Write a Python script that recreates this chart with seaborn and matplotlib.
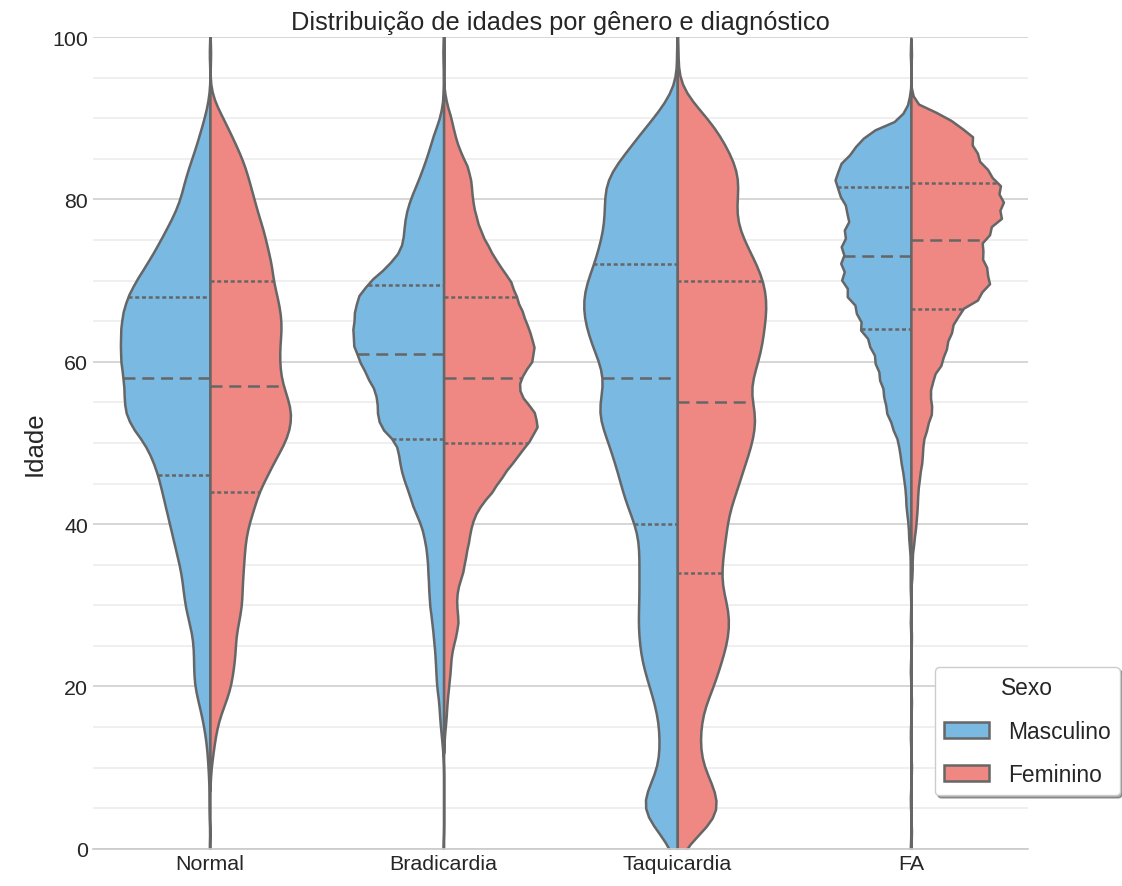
import numpy as np
import pandas as pd
import matplotlib.pyplot as plt
import seaborn as sns
from matplotlib.ticker import MultipleLocator

# ---------- Dados: número de pacientes por idade (faixas de 2 anos, 0..100) ----------
idades = list(range(0, 101, 2))
diagnosticos = ['Normal', 'Bradicardia', 'Taquicardia', 'FA']
sexos = ['Masculino', 'Feminino']

normal_masc = [1, 0, 1, 1, 1, 2, 3, 5, 8, 12,
               16, 17, 17, 18, 22, 26, 28, 30, 34, 38,
               42, 46, 50, 54, 60, 68, 82, 89, 89, 90,
               93, 93, 93, 91, 86, 77, 66, 56, 47, 38,
               31, 27, 22, 16, 11, 6, 2, 0, 0, 1, 0]
normal_fem = [0, 0, 0, 0, 0, 1, 3, 5, 8, 14,
              19, 21, 23, 23, 26, 29, 29, 30, 31, 32,
              35, 40, 44, 52, 59, 68, 73, 74, 69, 64,
              63, 63, 65, 64, 61, 57, 56, 52, 49, 44,
              40, 36, 32, 26, 19, 12, 4, 0, 0, 1, 0]
bradi_masc = [1, 0, 0, 0, 0, 0, 1, 3, 5, 6,
              9, 10, 11, 13, 15, 18, 19, 20, 21, 24,
              29, 39, 45, 53, 57, 59, 83, 85, 85, 97,
              107, 116, 116, 114, 111, 94, 69, 53, 51, 49,
              43, 34, 26, 19, 13, 5, 1, 0, 0, 1, 0]
bradi_fem = [0, 0, 0, 0, 0, 0, 0, 1, 3, 4,
             6, 8, 9, 14, 18, 15, 16, 23, 26, 30,
             33, 41, 58, 70, 85, 100, 113, 108, 89, 90,
             106, 108, 101, 94, 86, 80, 65, 54, 44, 38,
             34, 33, 29, 19, 13, 9, 3, 0, 0, 1, 0]
taqui_masc = [5, 14, 26, 28, 21, 15, 14, 14, 15, 18,
              22, 26, 29, 30, 31, 30, 30, 30, 30, 30,
              33, 39, 43, 46, 50, 54, 59, 63, 59, 57,
              61, 67, 71, 74, 74, 71, 65, 62, 58, 57,
              57, 57, 50, 39, 30, 19, 9, 2, 0, 1, 0]
taqui_fem = [3, 17, 30, 29, 25, 18, 16, 16, 17, 20,
             26, 29, 33, 36, 37, 36, 31, 31, 32, 34,
             35, 37, 42, 45, 49, 53, 55, 56, 50, 53,
             57, 60, 61, 63, 63, 61, 56, 50, 44, 41,
             42, 44, 42, 36, 30, 22, 10, 2, 0, 1, 0]
fa_masc = [1, 0, 0, 1, 0, 0, 0, 1, 0, 0,
           0, 1, 0, 0, 1, 0, 1, 1, 1, 3,
           4, 7, 8, 11, 15, 18, 27, 36, 39, 45,
           51, 58, 72, 76, 90, 98, 99, 99, 95, 89,
           99, 110, 105, 84, 66, 14, 3, 0, 0, 1, 0]
fa_fem = [0, 1, 0, 0, 0, 1, 0, 0, 0, 1,
          0, 0, 0, 1, 0, 0, 0, 2, 2, 5,
          8, 10, 11, 14, 18, 19, 26, 34, 30, 35,
          50, 57, 65, 75, 110, 126, 117, 111, 124, 144,
          144, 139, 116, 101, 96, 59, 5, 0, 0, 1, 0]

contagens = {
    ('Normal', 'Masculino'): normal_masc, ('Normal', 'Feminino'): normal_fem,
    ('Bradicardia', 'Masculino'): bradi_masc, ('Bradicardia', 'Feminino'): bradi_fem,
    ('Taquicardia', 'Masculino'): taqui_masc, ('Taquicardia', 'Feminino'): taqui_fem,
    ('FA', 'Masculino'): fa_masc, ('FA', 'Feminino'): fa_fem,
}

partes = []
for (diag, sexo), cont in contagens.items():
    partes.append(pd.DataFrame({'Idade': np.repeat(idades, cont),
                                'Diagnostico': diag, 'Sexo': sexo}))
df = pd.concat(partes, ignore_index=True)

cores = {'Masculino': '#7AB9E2', 'Feminino': '#EF8783'}
cor_linha = '#666666'

# ---------- Gráfico ----------
sns.set_theme(style='whitegrid', font_scale=1.4)
plt.rcParams['font.family'] = ['Liberation Sans', 'DejaVu Sans']

fig, ax = plt.subplots(figsize=(11.22, 8.87), dpi=100)
fig.subplots_adjust(left=0.083, right=0.916, bottom=0.042, top=0.957)

sns.violinplot(data=df, x='Diagnostico', y='Idade', hue='Sexo',
               order=diagnosticos, hue_order=sexos, split=True, inner='quart',
               density_norm='count', bw_adjust=0.35, palette=cores, saturation=1,
               linecolor=cor_linha, linewidth=1.8, ax=ax)

# linhas dos quartis: pontilhadas (Q1, Q3) e tracejada (mediana)
for i, linha in enumerate(ax.lines):
    linha.set_linewidth(1.8)
    linha.set_color(cor_linha)
    if i % 3 == 1:
        linha.set_dashes((4.8, 2.7))
    else:
        linha.set_dashes((1.6, 1.1))

ax.set_ylim(0, 100)
ax.set_xlim(-0.5, 3.5)
ax.yaxis.set_minor_locator(MultipleLocator(5))
ax.grid(which='major', axis='y', color='#cccccc', linewidth=1.1)
ax.grid(which='minor', axis='y', color='#ebebeb', linewidth=1.1)
ax.grid(False, axis='x')
ax.set_axisbelow(True)
ax.tick_params(which='both', length=0)
sns.despine(ax=ax, left=True)
ax.spines['bottom'].set_color('#cccccc')

ax.set_xlabel('')
ax.set_ylabel('Idade', fontsize=18.5)
ax.set_title('Distribuição de idades por gênero e diagnóstico', fontsize=18.3)

sns.move_legend(ax, 'upper left', bbox_to_anchor=(0.9005, 0.224), borderaxespad=0,
                title='Sexo', frameon=True, shadow=True, labelspacing=0.9,
                fontsize=16.4, title_fontsize=16.4)

plt.savefig('out.png', dpi=100)
plt.close()
